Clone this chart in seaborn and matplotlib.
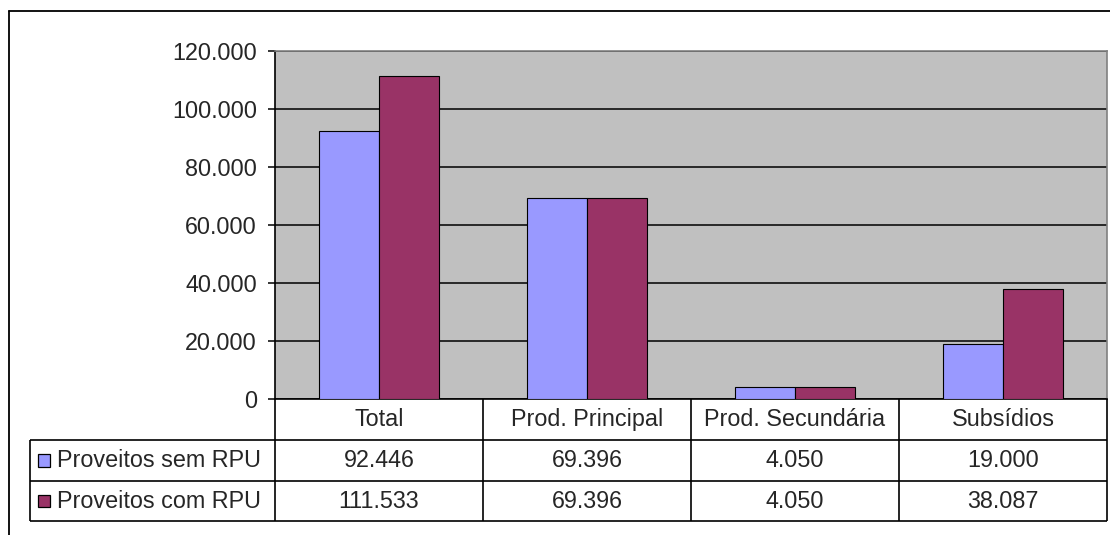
import numpy as np
import pandas as pd
import matplotlib
matplotlib.use("Agg")
import matplotlib.pyplot as plt
from matplotlib.patches import Rectangle
from matplotlib.lines import Line2D
import seaborn as sns

# 데이터
categories = ["Total", "Prod. Principal", "Prod. Secundária", "Subsídios"]
series_names = ["Proveitos sem RPU", "Proveitos com RPU"]
sem_rpu = [92446, 69396, 4050, 19000]
com_rpu = [111533, 69396, 4050, 38087]
y_ticks = [0, 20000, 40000, 60000, 80000, 100000, 120000]
colors = ["#9999FF", "#993366"]

df = pd.DataFrame({
    "categoria": categories * 2,
    "serie": [series_names[0]] * len(categories) + [series_names[1]] * len(categories),
    "valor": sem_rpu + com_rpu,
})

sns.set_style("white")
plt.rcParams["font.family"] = ["Liberation Sans", "DejaVu Sans"]
FS = 16.8


def fmt(v):
    return f"{v:,}".replace(",", ".")


W, H = 1110, 535
fig = plt.figure(figsize=(W / 100, H / 100), dpi=100)

# plot area (pixel coords)
px_l, px_r, px_t, px_b = 275, 1107, 51, 399
ax = fig.add_axes([px_l / W, (H - px_b) / H, (px_r - px_l) / W, (px_b - px_t) / H])
ax.set_facecolor("#C0C0C0")

sns.barplot(data=df, x="categoria", y="valor", hue="serie", order=categories,
            hue_order=series_names, palette=colors, saturation=1, width=0.58,
            edgecolor="black", linewidth=0.8, legend=False, ax=ax, zorder=3)

ax.set_xlim(-0.5, len(categories) - 0.5)
ax.set_ylim(0, y_ticks[-1])
ax.set_yticks(y_ticks)
ax.set_yticklabels([fmt(v) for v in y_ticks], fontsize=FS)
ax.set_xticks([])
ax.set_xlabel("")
ax.set_ylabel("")
ax.yaxis.grid(True, color="black", linewidth=1.1)
ax.set_axisbelow(True)
ax.tick_params(axis="y", length=5, width=1.1, color="black", pad=8, left=True)
for s in ["top", "right"]:
    ax.spines[s].set_color("#808080")
    ax.spines[s].set_linewidth(1.2)
for s in ["left", "bottom"]:
    ax.spines[s].set_color("black")
    ax.spines[s].set_linewidth(1.2)

# ── data table below the chart ──
ov = fig.add_axes([0, 0, 1, 1], facecolor="none")
ov.set_xlim(0, W)
ov.set_ylim(H, 0)
ov.axis("off")

n = len(categories)
col_w = (px_r - px_l) / n
col_x = [px_l + i * col_w for i in range(n + 1)]
row_y = [px_b, 440, 481, 521]
leg_l = 30

lk = dict(color="black", linewidth=1.2, solid_capstyle="butt")
for x in col_x:
    ov.plot([x, x], [row_y[0], row_y[-1]], **lk)
ov.plot([leg_l, leg_l], [row_y[1], row_y[-1]], **lk)
for y in row_y[1:]:
    ov.plot([leg_l, px_r], [y, y], **lk)

for i, c in enumerate(categories):
    ov.text((col_x[i] + col_x[i + 1]) / 2, (row_y[0] + row_y[1]) / 2, c,
            ha="center", va="center", fontsize=FS)

for r, (name, vals, col) in enumerate(zip(series_names, [sem_rpu, com_rpu], colors)):
    yc = (row_y[r + 1] + row_y[r + 2]) / 2
    ov.add_patch(Rectangle((37.5, yc - 6.5), 12.5, 12.5, facecolor=col,
                           edgecolor="black", linewidth=0.9))
    ov.text(57, yc, name, ha="left", va="center", fontsize=FS)
    for i, v in enumerate(vals):
        ov.text((col_x[i] + col_x[i + 1]) / 2, yc, fmt(v),
                ha="center", va="center", fontsize=FS)

# outer chart border (top and left visible)
fig.add_artist(Line2D([9 / W, 9 / W], [0, 1 - 11 / H], color="black", linewidth=1.3))
fig.add_artist(Line2D([9 / W, 1], [1 - 11 / H, 1 - 11 / H], color="black", linewidth=1.3))

plt.savefig("out.png", dpi=100)
plt.close()
